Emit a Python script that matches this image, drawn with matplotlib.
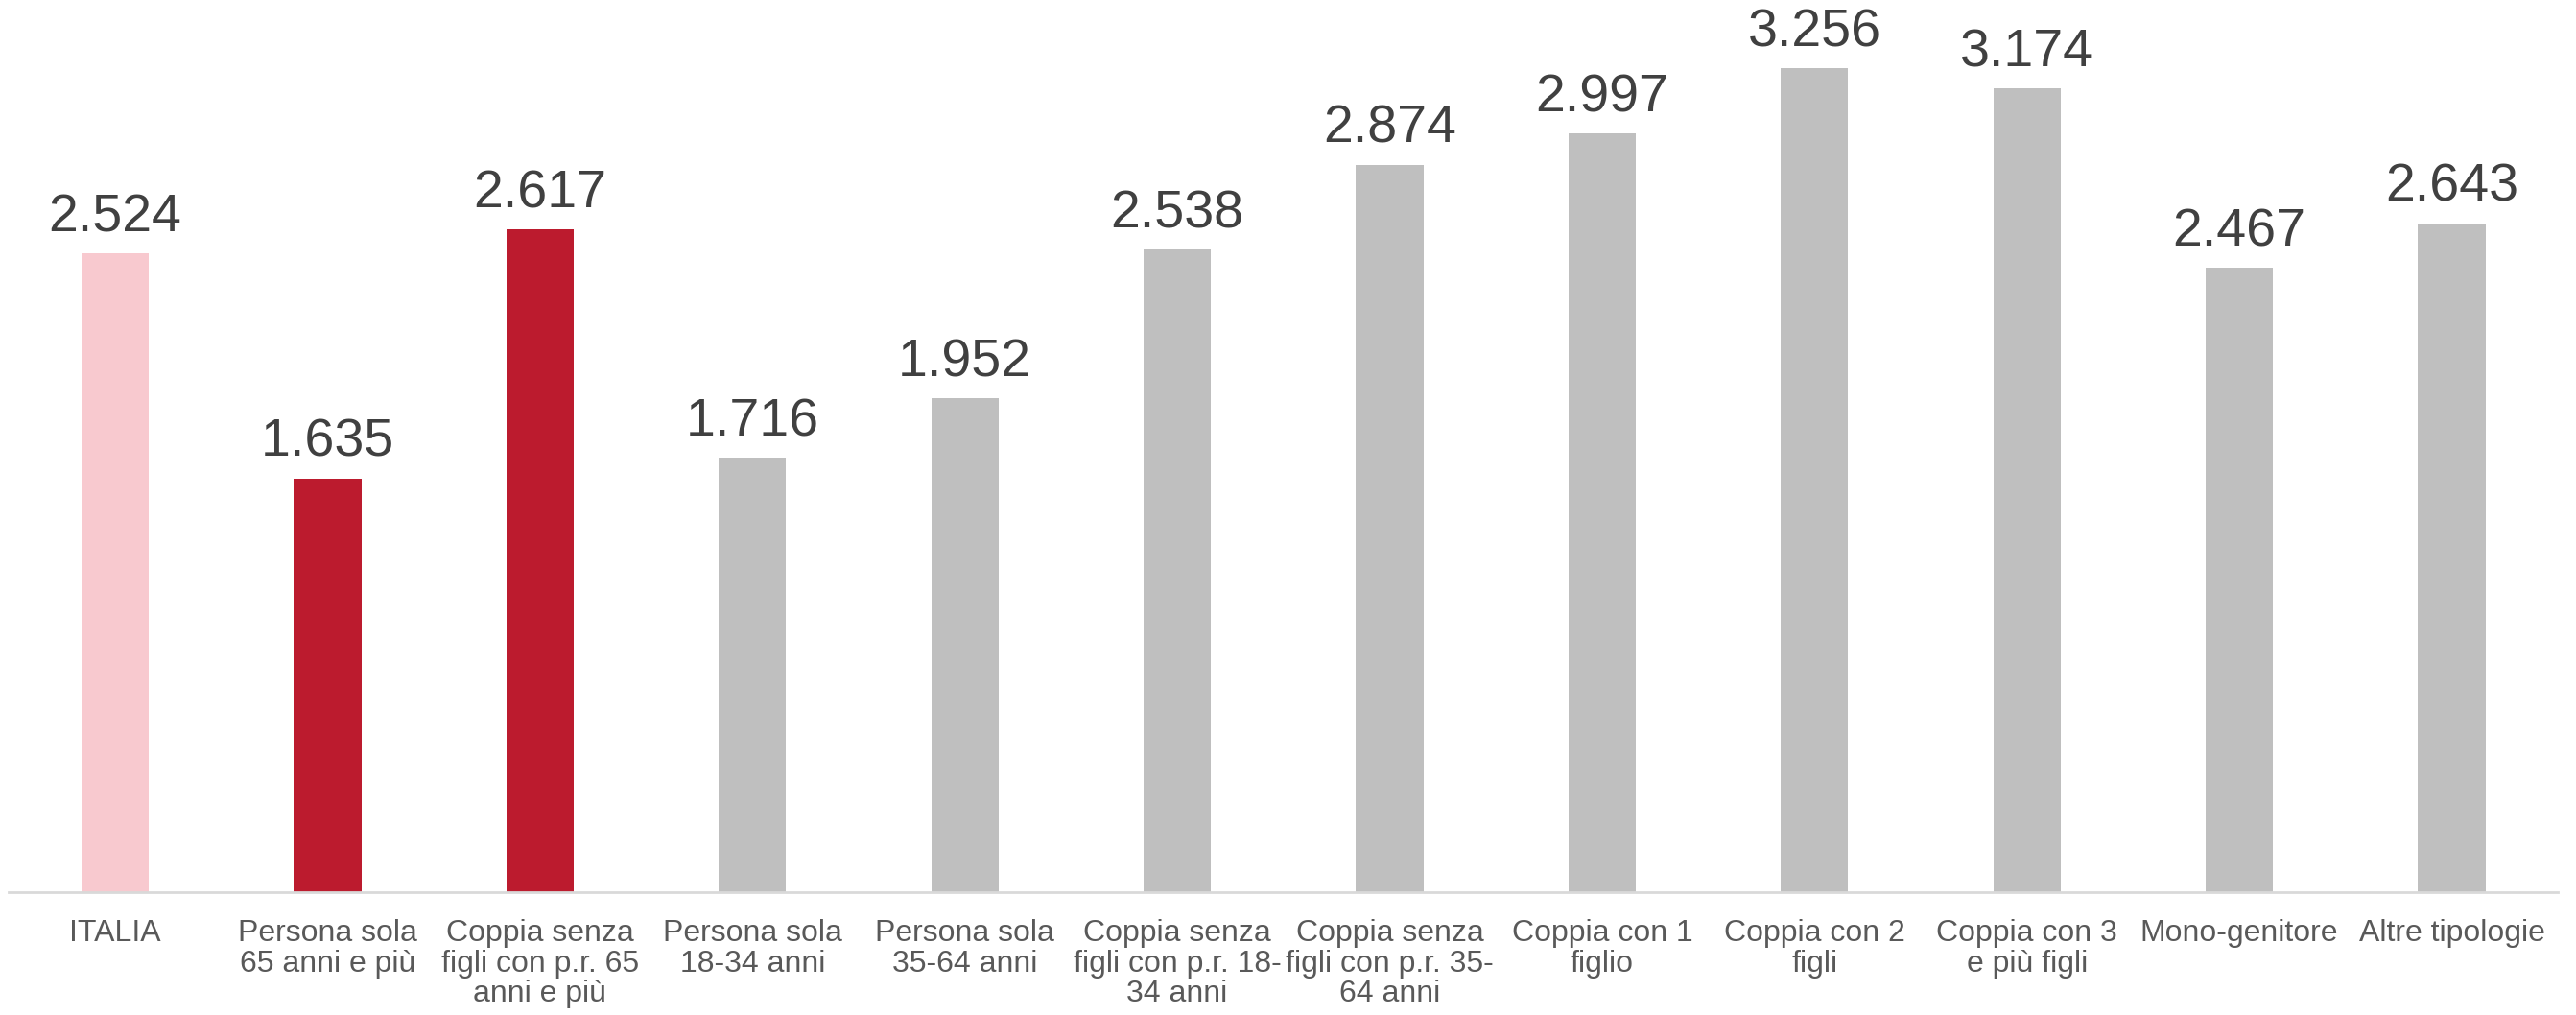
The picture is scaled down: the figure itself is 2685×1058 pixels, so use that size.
import numpy as np
import matplotlib.pyplot as plt

plt.rcParams['font.family'] = ['Liberation Sans', 'DejaVu Sans']

categories = ["ITALIA", "Persona sola\n65 anni e più", "Coppia senza\nfigli con p.r. 65\nanni e più",
              "Persona sola\n18-34 anni", "Persona sola\n35-64 anni", "Coppia senza\nfigli con p.r. 18-\n34 anni",
              "Coppia senza\nfigli con p.r. 35-\n64 anni", "Coppia con 1\nfiglio", "Coppia con 2\nfigli",
              "Coppia con 3\ne più figli", "Mono-genitore", "Altre tipologie"]
values = [2.524, 1.635, 2.617, 1.716, 1.952, 2.538, 2.874, 2.997, 3.256, 3.174, 2.467, 2.643]
labels = ["2.524", "1.635", "2.617", "1.716", "1.952", "2.538", "2.874", "2.997", "3.256", "3.174", "2.467", "2.643"]

pink = "#F8C9CF"
red = "#BC1B2E"
grey = "#BFBFBF"
colors = [pink, red, red] + [grey] * 9

fig = plt.figure(figsize=(26.85, 10.58), dpi=100)
ax = fig.add_axes([0.0035, 0.121, 0.9895, 0.873])

x = np.arange(len(categories))
bars = ax.bar(x, values, width=0.317, color=colors)

for b, lab in zip(bars, labels):
    ax.text(b.get_x() + b.get_width() / 2, b.get_height() + 0.04, lab,
            ha="center", va="bottom", fontsize=40, color="#404040", clip_on=False)

ax.set_xlim(-0.5, len(categories) - 0.5)
ax.set_ylim(0, 3.5)
ax.set_xticks(x)
ax.set_xticklabels(categories, fontsize=23, color="#595959", linespacing=1.08)
ax.tick_params(axis="x", length=0, pad=20)
ax.set_yticks([])

for s in ["top", "right", "left"]:
    ax.spines[s].set_visible(False)
ax.spines["bottom"].set_color("#D9D9D9")
ax.spines["bottom"].set_linewidth(2)

fig.savefig("out.png", dpi=100)
